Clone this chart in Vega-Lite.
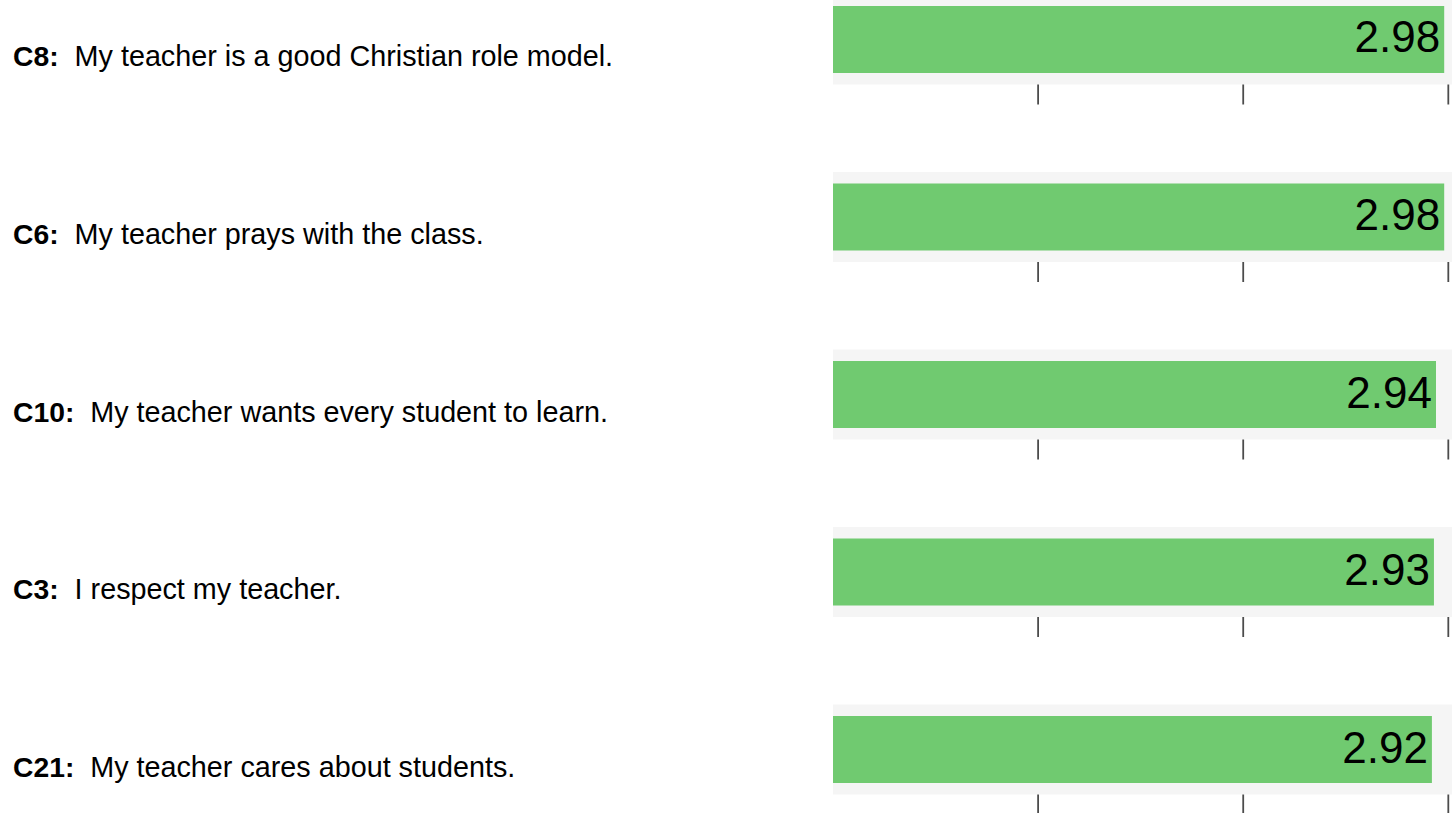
{
  "$schema": "https://vega.github.io/schema/vega-lite/v6.json",
  "width": 1452,
  "height": 813,
  "autosize": {"type": "none"},
  "padding": 0,
  "background": "white",
  "config": {"view": {"stroke": null}},
  "data": {
    "values": [
      {"code": "C8:", "statement": "My teacher is a good Christian role model.", "value": 2.98},
      {"code": "C6:", "statement": "My teacher prays with the class.", "value": 2.98},
      {"code": "C10:", "statement": "My teacher wants every student to learn.", "value": 2.94},
      {"code": "C3:", "statement": "I respect my teacher.", "value": 2.93},
      {"code": "C21:", "statement": "My teacher cares about students.", "value": 2.92}
    ]
  },
  "encoding": {
    "y": {
      "field": "code",
      "type": "nominal",
      "sort": null,
      "axis": null,
      "scale": {"range": [-5.5, 794.5], "paddingInner": 0.493, "paddingOuter": 0}
    }
  },
  "layer": [
    {
      "mark": {"type": "bar", "color": "#f5f5f5", "size": 90},
      "encoding": {
        "x": {"datum": 0, "type": "quantitative", "scale": {"domain": [-4.0614, 3.018], "nice": false, "zero": false}, "axis": null},
        "x2": {"datum": 3.2}
      }
    },
    {
      "mark": {"type": "bar", "color": "#70ca70", "size": 67},
      "encoding": {
        "x": {"field": "value", "type": "quantitative"}
      }
    },
    {
      "mark": {"type": "tick", "color": "#000000", "size": 20, "thickness": 1.8, "yOffset": 55, "orient": "vertical"},
      "encoding": {"x": {"datum": 1, "type": "quantitative"}}
    },
    {
      "mark": {"type": "tick", "color": "#000000", "size": 20, "thickness": 1.8, "yOffset": 55, "orient": "vertical"},
      "encoding": {"x": {"datum": 2, "type": "quantitative"}}
    },
    {
      "mark": {"type": "tick", "color": "#000000", "size": 20, "thickness": 1.8, "yOffset": 55, "orient": "vertical"},
      "encoding": {"x": {"datum": 3, "type": "quantitative"}}
    },
    {
      "mark": {"type": "text", "align": "right", "baseline": "alphabetic", "dx": -4, "dy": 13, "fontSize": 44, "font": "Liberation Sans", "color": "#000000"},
      "encoding": {
        "x": {"field": "value", "type": "quantitative"},
        "text": {"field": "value", "type": "quantitative", "format": ".2f"}
      }
    },
    {
      "mark": {"type": "text", "align": "left", "baseline": "alphabetic", "dy": 27, "fontSize": 28.3, "fontWeight": "bold", "font": "Liberation Sans", "color": "#000000"},
      "encoding": {
        "x": {"datum": -3.9981, "type": "quantitative"},
        "text": {"field": "code", "type": "nominal"}
      }
    },
    {
      "transform": [{"filter": "length(datum.code) == 3"}],
      "mark": {"type": "text", "align": "left", "baseline": "alphabetic", "dy": 27, "fontSize": 28.75, "font": "Liberation Sans", "color": "#000000"},
      "encoding": {
        "x": {"datum": -3.6977, "type": "quantitative"},
        "text": {"field": "statement", "type": "nominal"}
      }
    },
    {
      "transform": [{"filter": "length(datum.code) == 4"}],
      "mark": {"type": "text", "align": "left", "baseline": "alphabetic", "dy": 27, "fontSize": 28.75, "font": "Liberation Sans", "color": "#000000"},
      "encoding": {
        "x": {"datum": -3.6216, "type": "quantitative"},
        "text": {"field": "statement", "type": "nominal"}
      }
    }
  ]
}
